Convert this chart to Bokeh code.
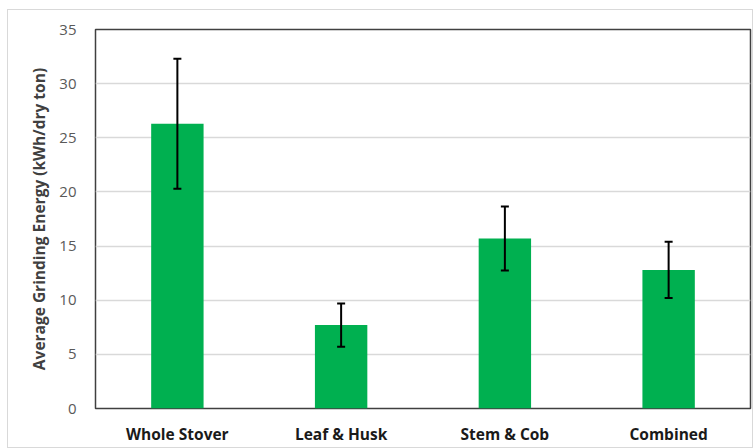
from bokeh.plotting import figure
from bokeh.models import ColumnDataSource, Whisker, TeeHead, FactorRange, Range1d, FixedTicker
from bokeh.embed import file_html
from bokeh.resources import INLINE

categories = ["Whole Stover", "Leaf & Husk", "Stem & Cob", "Combined"]
energy = [26.3, 7.7, 15.7, 12.8]
err = [6.0, 2.0, 2.95, 2.6]
y_ticks = [0, 5, 10, 15, 20, 25, 30, 35]

upper = [v + e for v, e in zip(energy, err)]
lower = [v - e for v, e in zip(energy, err)]
src = ColumnDataSource(dict(cat=categories, val=energy, upper=upper, lower=lower))

p = figure(x_range=FactorRange(*categories, range_padding=0), y_range=Range1d(0, 35),
           width=746, height=439, output_backend="svg", toolbar_location=None,
           min_border_left=87, min_border_right=4, min_border_top=19, min_border_bottom=41)

p.vbar(x="cat", top="val", width=0.32, source=src, fill_color="#00B050", line_color=None)

w = Whisker(base="cat", upper="upper", lower="lower", source=src, level="overlay",
            line_color="black", line_width=2,
            upper_head=TeeHead(size=8, line_color="black", line_width=2),
            lower_head=TeeHead(size=8, line_color="black", line_width=2))
p.add_layout(w)

p.outline_line_color = "#404040"
p.outline_line_width = 1.5
p.xgrid.grid_line_color = None
p.ygrid.grid_line_color = "#d9d9d9"
p.ygrid.grid_line_width = 1.5

p.yaxis.ticker = FixedTicker(ticks=y_ticks)
p.yaxis.axis_line_color = None
p.yaxis.major_tick_line_color = None
p.yaxis.minor_tick_line_color = None
p.yaxis.major_tick_out = 0
p.yaxis.major_tick_in = 0
p.yaxis.major_label_text_font = "Open Sans"
p.yaxis.major_label_text_font_size = "15px"
p.yaxis.major_label_text_color = "#595959"
p.yaxis.major_label_standoff = 19
p.yaxis.axis_label = "Average Grinding Energy (kWh/dry ton)"
p.yaxis.axis_label_text_font = "Open Sans"
p.yaxis.axis_label_text_font_style = "bold"
p.yaxis.axis_label_text_font_size = "15.5px"
p.yaxis.axis_label_text_color = "#404040"
p.yaxis.axis_label_standoff = 6

p.xaxis.axis_line_color = None
p.xaxis.major_tick_line_color = None
p.xaxis.minor_tick_line_color = None
p.xaxis.major_tick_out = 0
p.xaxis.major_tick_in = 0
p.xaxis.major_label_text_font = "Open Sans"
p.xaxis.major_label_text_font_style = "bold"
p.xaxis.major_label_text_font_size = "15.5px"
p.xaxis.major_label_text_color = "#1a1a1a"
p.xaxis.major_label_standoff = 14

p.styles = {"border": "1px solid #d9d9d9", "margin-left": "7px", "margin-top": "9px"}

open("out.html", "w").write(file_html(p, INLINE))
